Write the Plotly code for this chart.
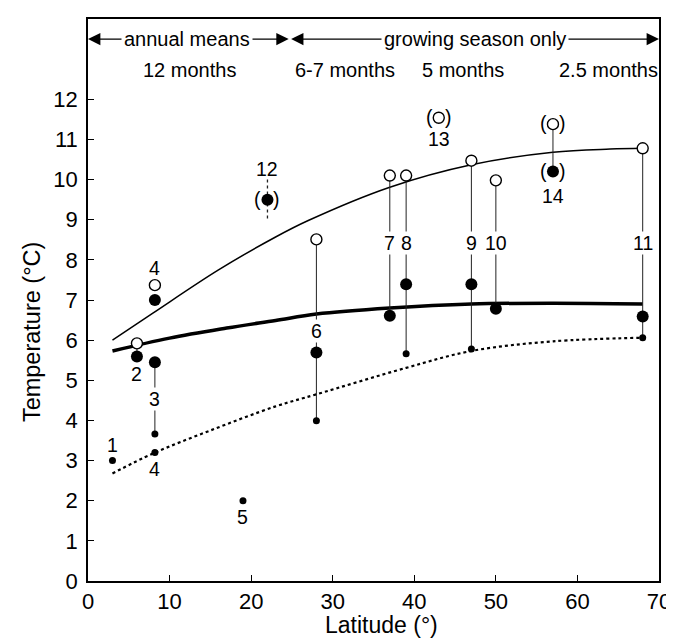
import plotly.graph_objects as go

# ---------------- data ----------------
# open circles (upper values)
open_lat = [6, 8.2, 28, 37, 39, 47, 50, 68]
open_temp = [5.92, 7.37, 8.51, 10.1, 10.1, 10.47, 9.98, 10.78]
# large filled circles
big_lat = [6, 8.2, 8.2, 28, 37, 39, 47, 50, 68]
big_temp = [5.59, 7.0, 5.45, 5.69, 6.61, 7.39, 7.39, 6.78, 6.59]
# small filled circles
small_lat = [3, 8.2, 8.2, 19, 28, 39, 47, 68]
small_temp = [3.0, 3.66, 3.2, 2.0, 3.99, 5.66, 5.78, 6.06]
# uncertain (bracketed) values
paren_open_lat = [43, 57]
paren_open_temp = [11.54, 11.38]
paren_big_lat = [22, 57]
paren_big_temp = [9.5, 10.2]

# vertical ranges
stem_lat = [6, 8.2, 28, 37, 39, 47, 50, 57, 68]
stem_top = [5.92, 5.45, 8.51, 10.1, 10.1, 10.47, 9.98, 11.38, 10.78]
stem_bottom = [5.59, 3.66, 3.99, 6.61, 5.66, 5.78, 6.78, 10.2, 6.06]
dash_stem_lat = [22]
dash_stem_top = [10.0]
dash_stem_bottom = [9.0]

# site numbers
label_text = ["1", "2", "3", "4", "4", "5", "6", "7", "8", "9", "10", "11", "12", "13", "14"]
label_lat = [3, 6, 8.2, 8.2, 8.2, 19, 28, 37, 39, 47, 50, 68, 22, 43, 57]
label_temp = [3.38, 5.15, 4.53, 7.8, 2.8, 1.6, 6.22, 8.41, 8.41, 8.41, 8.41, 8.41, 10.27, 11.02, 9.58]

# fitted curves
upper_lat = [3, 8, 16, 23, 27, 37, 47, 57, 64, 68]
upper_temp = [6.0, 6.68, 7.75, 8.57, 8.98, 9.81, 10.37, 10.68, 10.76, 10.78]
mid_lat = [3, 10, 17, 23, 28, 37, 47, 57, 68]
mid_temp = [5.73, 6.05, 6.3, 6.49, 6.65, 6.8, 6.9, 6.92, 6.9]
lower_lat = [3, 8, 15, 23, 28, 39, 47, 57, 68]
lower_temp = [2.68, 3.18, 3.75, 4.35, 4.65, 5.31, 5.73, 5.97, 6.06]

# header
period_text = ["annual means", "growing season only"]
period_start = [0, 24.9]
period_end = [24.6, 70]
period_center = [12.1, 47.4]
months_text = ["12 months", "6-7 months", "5 months", "2.5 months"]
months_lat = [12.4, 31.5, 46, 63.8]

x_ticks = [0, 10, 20, 30, 40, 50, 60, 70]
y_ticks = list(range(0, 13))

FONT = "Liberation Sans, Arial, Helvetica, sans-serif"
ARROW_Y = 13.5
MONTHS_Y = 12.72

fig = go.Figure()

def spline(xs, ys, width, dash="solid"):
    fig.add_trace(go.Scatter(x=xs, y=ys, mode="lines", line=dict(color="black", width=width,
                             dash=dash, shape="spline", smoothing=1.0),
                             hoverinfo="skip", showlegend=False))

spline(upper_lat, upper_temp, 1.5)
spline(mid_lat, mid_temp, 3.5)
spline(lower_lat, lower_temp, 2.2, "dot")

# stems
sx, sy = [], []
for la, t, b in zip(stem_lat, stem_top, stem_bottom):
    sx += [la, la, None]
    sy += [t, b, None]
fig.add_trace(go.Scatter(x=sx, y=sy, mode="lines", line=dict(color="#222", width=1),
                         hoverinfo="skip", showlegend=False))
dx, dy = [], []
for la, t, b in zip(dash_stem_lat, dash_stem_top, dash_stem_bottom):
    dx += [la, la, None]
    dy += [t, b, None]
fig.add_trace(go.Scatter(x=dx, y=dy, mode="lines", line=dict(color="#222", width=1.3, dash="3px,3px"),
                         hoverinfo="skip", showlegend=False))

# markers
fig.add_trace(go.Scatter(x=small_lat, y=small_temp, mode="markers",
                         marker=dict(color="black", size=7), showlegend=False))
fig.add_trace(go.Scatter(x=big_lat + paren_big_lat, y=big_temp + paren_big_temp, mode="markers",
                         marker=dict(color="black", size=12), showlegend=False))
fig.add_trace(go.Scatter(x=open_lat + paren_open_lat, y=open_temp + paren_open_temp, mode="markers",
                         marker=dict(color="white", size=11, line=dict(color="black", width=1.4)),
                         showlegend=False))


def on_stem(la, v):
    for sl, t, b in zip(stem_lat, stem_top, stem_bottom):
        if abs(sl - la) < 0.01 and b < v < t:
            return True
    return False


ann = []
LBL = 19.5
# site number labels (white background cuts the stems they sit on)
for t, la, v in zip(label_text, label_lat, label_temp):
    ann.append(dict(x=la, y=v, text=t, showarrow=False, font=dict(size=LBL, color="black", family=FONT),
                    bgcolor="white" if on_stem(la, v) else "rgba(0,0,0,0)", borderpad=0,
                    xanchor="center", yanchor="middle"))
# brackets around uncertain values
for la, v in zip(paren_open_lat + paren_big_lat, paren_open_temp + paren_big_temp):
    for s, sh in (("(", -9.5), (")", 9.5)):
        ann.append(dict(x=la, y=v, text=s, showarrow=False, xshift=sh, yshift=1,
                        font=dict(size=LBL, color="black", family=FONT)))

# header arrows
for s, e, c in zip(period_start, period_end, period_center):
    for tip in (s, e):
        ann.append(dict(x=tip, y=ARROW_Y, ax=c, ay=ARROW_Y, axref="x", ayref="y", xref="x", yref="y",
                        text="", showarrow=True, arrowhead=2, arrowsize=1.9, arrowwidth=1.3,
                        arrowcolor="black", standoff=0, startstandoff=0))
for t, c in zip(period_text, period_center):
    ann.append(dict(x=c, y=ARROW_Y, text=t, showarrow=False, bgcolor="white", borderpad=2,
                    font=dict(size=20, color="black", family=FONT)))
for t, la in zip(months_text, months_lat):
    ann.append(dict(x=la, y=MONTHS_Y, text=t, showarrow=False,
                    font=dict(size=20, color="black", family=FONT)))

# axis titles
ann.append(dict(xref="paper", x=0, y=6.2, yref="y", xshift=-56, xanchor="center", yanchor="middle",
                text="Temperature (°C)", textangle=-90, showarrow=False,
                font=dict(size=23.5, color="black", family=FONT)))
ann.append(dict(x=36, y=0, xref="x", yref="paper", yshift=-44, xanchor="center", yanchor="middle",
                text="Latitude (°)", showarrow=False, font=dict(size=23, color="black", family=FONT)))

fig.update_layout(
    width=674, height=640,
    margin=dict(l=80, r=23, t=9, b=67),
    paper_bgcolor="white", plot_bgcolor="white",
    showlegend=False,
    annotations=ann,
    font=dict(family=FONT, color="black"),
)
fig.update_xaxes(range=[0, 70], tickvals=x_ticks, ticks="inside", ticklen=6, tickwidth=1.2,
                 tickcolor="black", showline=True, mirror=True, linecolor="black", linewidth=1.5,
                 showgrid=False, zeroline=False, tickfont=dict(size=22, family=FONT, color="black"),
                 ticklabelstandoff=0)
fig.update_yaxes(range=[0, 14], tickvals=y_ticks, ticks="inside", ticklen=6, tickwidth=1.2,
                 tickcolor="black", showline=True, mirror=True, linecolor="black", linewidth=1.5,
                 showgrid=False, zeroline=False, tickfont=dict(size=22, family=FONT, color="black"),
                 ticklabelstandoff=4)

fig.write_html("out.html")
